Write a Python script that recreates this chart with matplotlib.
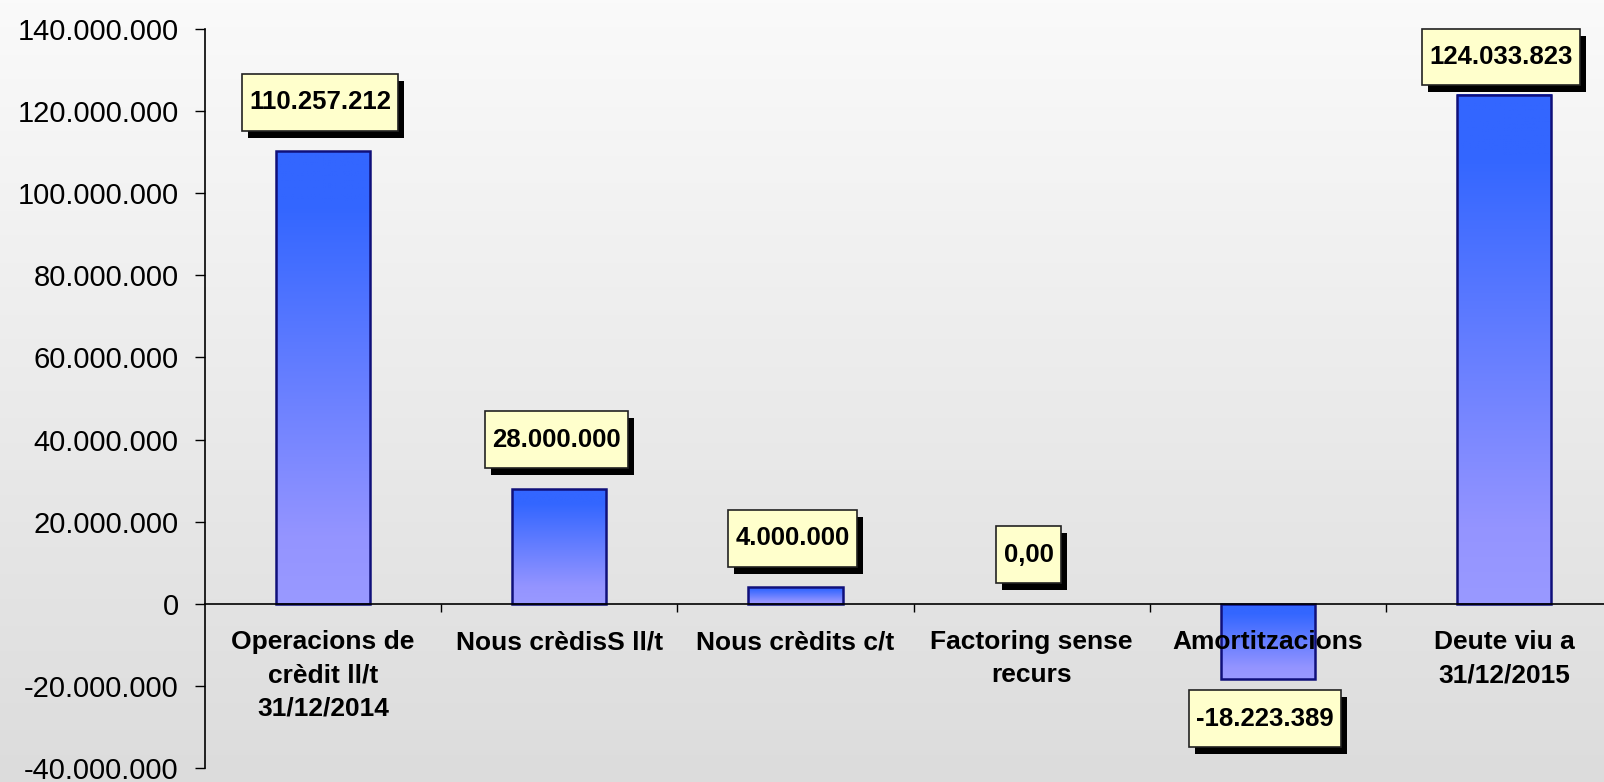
import numpy as np
import matplotlib
matplotlib.use("Agg")
import matplotlib.pyplot as plt
from matplotlib.ticker import MultipleLocator, FixedLocator, FuncFormatter
from matplotlib.colors import LinearSegmentedColormap
from matplotlib.path import Path
from matplotlib.patches import Rectangle
from matplotlib.transforms import IdentityTransform

# ---- data ----
categories = ["Operacions de\ncrèdit ll/t\n31/12/2014", "Nous crèdisS ll/t", "Nous crèdits c/t",
              "Factoring sense\nrecurs", "Amortitzacions", "Deute viu a\n31/12/2015"]
values = [110257212, 28000000, 4000000, 0, -18223389, 124033823]
value_labels = ["110.257.212", "28.000.000", "4.000.000", "0,00", "-18.223.389", "124.033.823"]
y_min, y_max, y_step = -40000000, 140000000, 20000000

plt.rcParams['font.family'] = ['Liberation Sans', 'DejaVu Sans']

W, H, DPI = 1604, 782, 100
fig = plt.figure(figsize=(W / DPI, H / DPI), dpi=DPI)

# background gradient
bg = fig.add_axes([0, 0, 1, 1], zorder=-10)
bg.axis('off')
grad = np.linspace(0, 1, 256).reshape(-1, 1)
bg_cmap = LinearSegmentedColormap.from_list('bg', ['#fafafa', '#dcdcdc'])
bg.imshow(grad, aspect='auto', cmap=bg_cmap, extent=[0, 1, 0, 1], origin='upper')

left_px, right_px, top_px, bot_px = 205, 1622, 29, 768
ax = fig.add_axes([left_px / W, 1 - bot_px / H, (right_px - left_px) / W, (bot_px - top_px) / H])
ax.set_facecolor('none')
ax.set_axisbelow(False)

n = len(categories)
x = np.arange(n)
bar_w = 0.4
bar_cmap = LinearSegmentedColormap.from_list(
    'bar', [(0, '#3366ff'), (0.12, '#3366ff'), (0.85, '#9494ff'), (1, '#9999ff')])
for xi, v in zip(x, values):
    if v == 0:
        continue
    lo, hi = min(0, v), max(0, v)
    ax.imshow(grad, aspect='auto', cmap=bar_cmap, origin='upper',
              extent=[xi - bar_w / 2, xi + bar_w / 2, lo, hi], zorder=1)
lws = [1.8 if v != 0 else 0 for v in values]
ax.bar(x, values, width=bar_w, facecolor='none', edgecolor='#10107a', linewidth=lws, zorder=1.5)

ax.set_xlim(-0.5, n - 0.5)
ax.set_ylim(y_min, y_max)

# spines
for s in ['top', 'right']:
    ax.spines[s].set_visible(False)
ax.spines['bottom'].set_position(('data', 0))
ax.spines['bottom'].set_linewidth(1.2)
ax.spines['left'].set_linewidth(1.2)

ax.yaxis.set_major_locator(MultipleLocator(y_step))
ax.yaxis.set_major_formatter(FuncFormatter(lambda v, p: f"{v:,.0f}".replace(',', '.')))
ax.tick_params(axis='y', direction='out', length=7, width=1, pad=12, labelsize=21)

ax.xaxis.set_major_locator(FixedLocator(x))
ax.set_xticklabels(categories, fontsize=19, fontweight='bold', linespacing=1.47, va='top')
ax.xaxis.set_minor_locator(FixedLocator(x[:-1] + 0.5))
ax.tick_params(axis='x', which='major', length=0, pad=19)
ax.tick_params(axis='x', which='minor', direction='out', length=6, width=1)


def label_box(x0, y0, width, height, mutation_size):
    px = 0.28 * mutation_size
    py = 0.64 * mutation_size
    xa, xb = x0 - px, x0 + width + px
    ya, yb = y0 - py, y0 + height + py
    return Path([(xa, ya), (xb, ya), (xb, yb), (xa, yb), (xa, ya)],
                [Path.MOVETO, Path.LINETO, Path.LINETO, Path.LINETO, Path.CLOSEPOLY])


# data labels
fig.canvas.draw()
ax_top = ax.bbox.y1
half_h = 28
anns = []
for xi, v, lab in zip(x, values, value_labels):
    yd = ax.transData.transform((xi, v))[1]
    if v >= 0:
        dpx = 49
        if yd + dpx + half_h > ax_top:
            dpx = ax_top - half_h - yd
    else:
        dpx = -40
    dx_pt = -3 * 72 / DPI
    dy_pt = dpx * 72 / DPI
    a = ax.annotate(lab, xy=(xi, v), xytext=(dx_pt, dy_pt),
                    textcoords='offset points', ha='center', va='center', fontsize=18.5,
                    fontweight='bold', color='black', zorder=6,
                    bbox=dict(boxstyle=label_box, fc='#ffffcc', ec='#222222', lw=1.2))
    anns.append(a)

# shadows behind the label boxes
fig.canvas.draw()
renderer = fig.canvas.get_renderer()
for a in anns:
    bb = a.get_bbox_patch().get_window_extent(renderer)
    sh = Rectangle((bb.x0 + 6, bb.y0 - 7), bb.width, bb.height, transform=IdentityTransform(),
                   facecolor='black', edgecolor='none', zorder=5)
    fig.add_artist(sh)
    sh.set_zorder(5)
    # ensure shadow is drawn inside axes order
    sh.remove()
    ax.add_artist(sh)
    sh.set_transform(IdentityTransform())
    sh.set_clip_on(False)

fig.savefig('out.png', dpi=DPI)
